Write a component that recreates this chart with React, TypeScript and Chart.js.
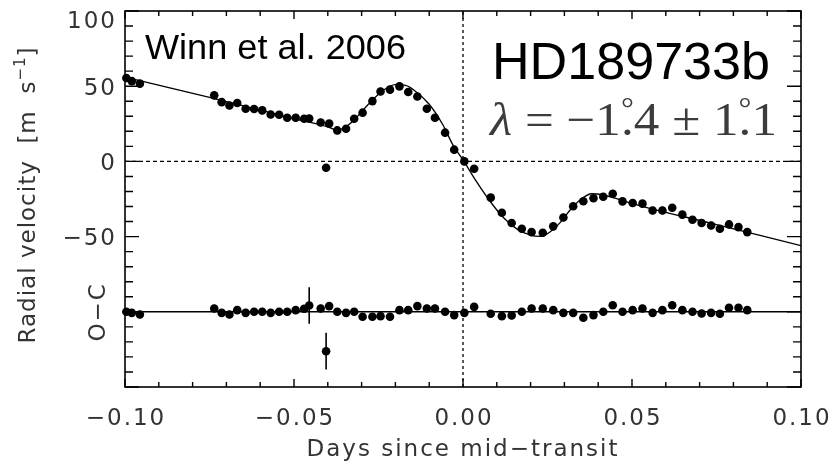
import { useEffect, useRef } from "react";
import { Chart, registerables } from "chart.js";

Chart.register(...registerables);

// ---- Data ----
const times = [
  -0.0996, -0.098, -0.0956, -0.0736, -0.0714, -0.0691, -0.0668, -0.0643, -0.0618, -0.0594,
  -0.0569, -0.0544, -0.052, -0.0495, -0.047, -0.0455, -0.0421, -0.0405, -0.0396, -0.0372,
  -0.0346, -0.0322, -0.0297, -0.0268, -0.0244, -0.0216, -0.0188, -0.0162, -0.0135, -0.0107,
  -0.0083, -0.0053, -0.0026, 0.0004, 0.0033, 0.0082, 0.0115, 0.0144, 0.0174, 0.0203,
  0.0236, 0.0267, 0.0297, 0.0326, 0.0356, 0.0386, 0.0415, 0.0443, 0.0472, 0.0502,
  0.0531, 0.0561, 0.059, 0.0619, 0.0649, 0.0679, 0.0706, 0.0734, 0.076, 0.0787,
  0.0815, 0.0841,
];
const velocities = [
  55.5, 53.4, 51.7, 43.9, 39.4, 37.2, 38.8, 35.0, 34.8, 33.9,
  31.2, 31.0, 29.0, 29.0, 28.4, 28.5, 25.9, -4.2, 25.1, 20.6,
  21.7, 28.4, 32.4, 40.1, 46.5, 47.7, 49.9, 46.1, 43.2, 35.0,
  29.0, 19.1, 7.8, 0.0, -4.9, -24.1, -34.1, -41.0, -44.8, -47.0,
  -47.4, -43.2, -37.3, -29.8, -26.5, -24.5, -23.5, -21.5, -26.6, -27.7,
  -28.1, -32.6, -32.6, -30.8, -35.4, -38.8, -41.0, -42.6, -44.8, -41.9,
  -43.7, -47.0,
];
const residuals = [
  0.0, -0.7, -1.8, 2.2, -0.7, -1.8, 1.1, -0.7, 0.0, 0.0,
  -0.7, 0.0, 0.0, 1.1, 2.0, 4.2, 2.2, -26.2, 3.8, 0.0,
  -0.7, 0.0, -3.3, -3.3, -2.9, -3.3, 1.1, 1.1, 3.8, 2.2,
  2.2, 0.0, -2.2, -0.7, 3.3, -1.3, -2.9, -2.4, 0.0, 2.2,
  2.2, 1.1, -0.7, -0.7, -4.0, -2.2, 0.0, 4.4, 0.0, 1.1,
  2.2, -0.7, 1.1, 4.4, 1.1, 0.0, -1.1, -0.7, -1.3, 2.7,
  2.7, 1.1,
];
const residualErrors = [
  2.5, 2.5, 2.5, 2.5, 2.5, 2.5, 2.5, 2.5, 2.5, 2.5,
  2.5, 2.5, 2.5, 2.5, 2.5, 12.2, 2.5, 12.2, 2.5, 2.5,
  2.5, 2.5, 2.5, 2.5, 2.5, 2.5, 2.5, 2.5, 2.5, 2.5,
  2.5, 2.5, 2.5, 2.5, 2.5, 2.5, 2.5, 2.5, 2.5, 2.5,
  2.5, 2.5, 2.5, 2.5, 2.5, 2.5, 2.5, 2.5, 2.5, 2.5,
  2.5, 2.5, 2.5, 2.5, 2.5, 2.5, 2.5, 2.5, 2.5, 2.5,
  2.5, 2.5,
];
const velocityError = 2.5;

const modelTimes = [
  -0.1, -0.075, -0.05, -0.04, -0.0375, -0.035, -0.032, -0.028, -0.024, -0.02,
  -0.017, -0.014, -0.01, -0.006, -0.003, 0.0, 0.004, 0.008, 0.012, 0.016,
  0.02, 0.023, 0.026, 0.029, 0.032, 0.035, 0.038, 0.041, 0.045, 0.05,
  0.075, 0.1,
];
const modelVelocities = [
  56.0, 42.5, 28.5, 23.0, 21.0, 22.5, 28.0, 38.0, 46.5, 51.0,
  50.5, 46.5, 38.0, 24.5, 11.0, 1.0, -13.5, -26.5, -37.5, -45.0,
  -49.0, -49.8, -46.5, -40.0, -31.5, -25.0, -21.5, -22.0, -24.5, -28.0,
  -42.0, -56.0,
];

const residualOffset = -100;
const xMin = -0.1;
const xMax = 0.1;
const yMin = -150;
const yMax = 100;

const xTickValues = [-0.1, -0.05, 0.0, 0.05, 0.1];
const xTickLabels = ["\u22120.10", "\u22120.05", "0.00", "0.05", "0.10"];
const yTickValues = [100, 50, 0, -50];
const yTickLabels = ["100", "50", "0", "\u221250"];
const xMinorStep = 0.01;
const yMinorStep = 10;

const xTitle = "Days since mid\u2212transit";
const yTitle = "Radial velocity  [m  s";
const residualTitle = "O\u2212C";
const sourceLabel = "Winn et al. 2006";
const planetLabel = "HD189733b";

const AXIS_FONT = "23px 'DejaVu Sans'";
const AXIS_COLOR = "#333";

function drawFitted(ctx: CanvasRenderingContext2D, text: string, font: string, x: number, baseline: number, width: number) {
  ctx.save();
  ctx.font = font;
  ctx.textAlign = "left";
  ctx.textBaseline = "alphabetic";
  const w = ctx.measureText(text).width;
  ctx.translate(x, baseline);
  ctx.scale(width / w, 1);
  ctx.fillText(text, 0, 0);
  ctx.restore();
}

function drawLambda(ctx: CanvasRenderingContext2D, x: number, baseline: number, width: number) {
  const size = 46;
  const roman = `${size}px 'Liberation Serif'`;
  const italic = `italic ${size}px 'Liberation Serif'`;
  const small = `${Math.round(size * 0.62)}px 'Liberation Serif'`;
  type Seg = { t: string; f: string; deg?: boolean };
  const segs: Seg[] = [
    { t: "\u03bb", f: italic },
    { t: " = \u22121", f: roman },
    { t: "", f: roman, deg: true },
    { t: "4 \u00b1 1", f: roman },
    { t: "", f: roman, deg: true },
    { t: "1", f: roman },
  ];
  ctx.save();
  const widths = segs.map((s) => {
    if (s.deg) {
      ctx.font = small;
      const a = ctx.measureText("\u00b0").width;
      ctx.font = roman;
      const b = ctx.measureText(".").width;
      return Math.max(a, b);
    }
    ctx.font = s.f;
    return ctx.measureText(s.t).width;
  });
  const total = widths.reduce((p, c) => p + c, 0);
  ctx.translate(x, baseline);
  ctx.scale(width / total, 1);
  ctx.fillStyle = "#3c3c3c";
  ctx.textBaseline = "alphabetic";
  let cx = 0;
  segs.forEach((s, i) => {
    if (s.deg) {
      const w = widths[i];
      ctx.textAlign = "center";
      ctx.font = small;
      ctx.fillText("\u00b0", cx + w / 2, -size * 0.38);
      ctx.font = roman;
      ctx.fillText(".", cx + w / 2, 0);
    } else {
      ctx.textAlign = "left";
      ctx.font = s.f;
      ctx.fillText(s.t, cx, 0);
    }
    cx += widths[i];
  });
  ctx.restore();
}

const framePlugin = {
  id: "frame",
  beforeDraw(chart: any) {
    const { ctx, width, height } = chart;
    ctx.save();
    ctx.fillStyle = "#fff";
    ctx.fillRect(0, 0, width, height);
    ctx.restore();
  },
  afterDatasetsDraw(chart: any) {
    const { ctx, chartArea: a, scales } = chart;
    const xs = scales.x;
    const ys = scales.y;
    ctx.save();
    ctx.strokeStyle = "#000";
    ctx.lineCap = "butt";

    // error bars
    ctx.lineWidth = 1.6;
    times.forEach((t, i) => {
      const px = xs.getPixelForValue(t);
      ctx.beginPath();
      ctx.moveTo(px, ys.getPixelForValue(velocities[i] - velocityError));
      ctx.lineTo(px, ys.getPixelForValue(velocities[i] + velocityError));
      const r = residuals[i] + residualOffset;
      ctx.moveTo(px, ys.getPixelForValue(r - residualErrors[i]));
      ctx.lineTo(px, ys.getPixelForValue(r + residualErrors[i]));
      ctx.stroke();
    });

    // frame
    ctx.lineWidth = 1.6;
    ctx.strokeRect(a.left, a.top, a.right - a.left, a.bottom - a.top);

    // ticks
    ctx.lineWidth = 1.4;
    ctx.beginPath();
    const nx = Math.round((xMax - xMin) / xMinorStep);
    for (let i = 0; i <= nx; i++) {
      const v = xMin + i * xMinorStep;
      const major = i % 5 === 0;
      const len = major ? 8 : 5;
      const px = xs.getPixelForValue(v);
      ctx.moveTo(px, a.bottom);
      ctx.lineTo(px, a.bottom - len);
      ctx.moveTo(px, a.top);
      ctx.lineTo(px, a.top + len);
    }
    const ny = Math.round((yMax - yMin) / yMinorStep);
    for (let k = 0; k <= ny; k++) {
      const v = yMin + k * yMinorStep;
      const major = Math.round(v) % 50 === 0;
      const len = major ? 14 : 8;
      const py = ys.getPixelForValue(v);
      ctx.moveTo(a.left, py);
      ctx.lineTo(a.left + len, py);
      ctx.moveTo(a.right, py);
      ctx.lineTo(a.right - len, py);
    }
    ctx.stroke();

    // tick labels
    ctx.fillStyle = AXIS_COLOR;
    ctx.font = AXIS_FONT;
    (ctx as any).letterSpacing = "2px";
    ctx.textBaseline = "middle";
    ctx.textAlign = "center";
    xTickValues.forEach((v, i) => {
      ctx.fillText(xTickLabels[i], xs.getPixelForValue(v) + 1, a.bottom + 32);
    });
    ctx.textAlign = "right";
    yTickValues.forEach((v, i) => {
      const py = Math.max(ys.getPixelForValue(v) + 2.5, a.top + 11);
      ctx.fillText(yTickLabels[i], a.left - 8, py);
    });

    // axis titles
    ctx.textAlign = "center";
    ctx.fillText(xTitle, (a.left + a.right) / 2, a.bottom + 63);

    ctx.save();
    (ctx as any).letterSpacing = "1px";
    ctx.translate(29, 195);
    ctx.rotate(-Math.PI / 2);
    ctx.textAlign = "left";
    const mainW = ctx.measureText(yTitle).width;
    ctx.font = "15px 'DejaVu Sans'";
    const supW = ctx.measureText("\u22121").width;
    ctx.font = AXIS_FONT;
    const brW = ctx.measureText("]").width;
    const tot = mainW + supW + brW;
    let cx = -tot / 2;
    ctx.fillText(yTitle, cx, 0);
    cx += mainW;
    ctx.font = "15px 'DejaVu Sans'";
    ctx.fillText("\u22121", cx, -8);
    cx += supW;
    ctx.font = AXIS_FONT;
    ctx.fillText("]", cx, 0);
    ctx.restore();

    ctx.save();
    ctx.translate(99, ys.getPixelForValue(residualOffset));
    ctx.rotate(-Math.PI / 2);
    ctx.textAlign = "center";
    ctx.fillText(residualTitle, 0, 0);
    ctx.restore();

    (ctx as any).letterSpacing = "0px";

    // annotations
    ctx.fillStyle = "#000";
    drawFitted(ctx, sourceLabel, "35px 'Liberation Sans'", a.left + 20, a.top + 48, 261);
    drawFitted(ctx, planetLabel, "52px 'Liberation Sans'", 492, a.top + 68, 278);
    drawLambda(ctx, 490, a.top + 124, 287);

    ctx.restore();
  },
};

export default function App() {
  const canvasRef = useRef<HTMLCanvasElement | null>(null);

  useEffect(() => {
    const canvas = canvasRef.current;
    if (!canvas) return;
    const chart = new Chart(canvas, {
      type: "scatter",
      data: {
        datasets: [
          {
            data: [
              { x: xMin, y: 0 },
              { x: xMax, y: 0 },
            ],
            showLine: true,
            borderColor: "#000",
            borderWidth: 1.3,
            borderDash: [4, 3],
            pointRadius: 0,
          },
          {
            data: [
              { x: 0, y: yMin },
              { x: 0, y: yMax },
            ],
            showLine: true,
            borderColor: "#000",
            borderWidth: 1.3,
            borderDash: [3, 3],
            pointRadius: 0,
          },
          {
            data: [
              { x: xMin, y: residualOffset },
              { x: xMax, y: residualOffset },
            ],
            showLine: true,
            borderColor: "#000",
            borderWidth: 1.5,
            pointRadius: 0,
          },
          {
            data: modelTimes.map((t, i) => ({ x: t, y: modelVelocities[i] })),
            showLine: true,
            borderColor: "#000",
            borderWidth: 1.3,
            cubicInterpolationMode: "monotone",
            pointRadius: 0,
          },
          {
            data: times.map((t, i) => ({ x: t, y: velocities[i] })),
            backgroundColor: "#000",
            borderColor: "#000",
            borderWidth: 0,
            pointRadius: 4.3,
            clip: false,
          },
          {
            data: times.map((t, i) => ({ x: t, y: residuals[i] + residualOffset })),
            backgroundColor: "#000",
            borderColor: "#000",
            borderWidth: 0,
            pointRadius: 4.3,
            clip: false,
          },
        ] as any,
      },
      options: {
        animation: false,
        responsive: false,
        layout: { padding: { left: 125, right: 39, top: 11, bottom: 80 } },
        plugins: { legend: { display: false }, tooltip: { enabled: false } },
        events: [],
        scales: {
          x: { type: "linear", min: xMin, max: xMax, display: false },
          y: { type: "linear", min: yMin, max: yMax, display: false },
        },
      },
      plugins: [framePlugin],
    });
    return () => chart.destroy();
  }, []);

  return (
    <div style={{ position: "absolute", left: 0, top: 0, width: 840, height: 467, background: "#fff" }}>
      <canvas ref={canvasRef} width={840} height={467} style={{ display: "block" }} />
    </div>
  );
}
